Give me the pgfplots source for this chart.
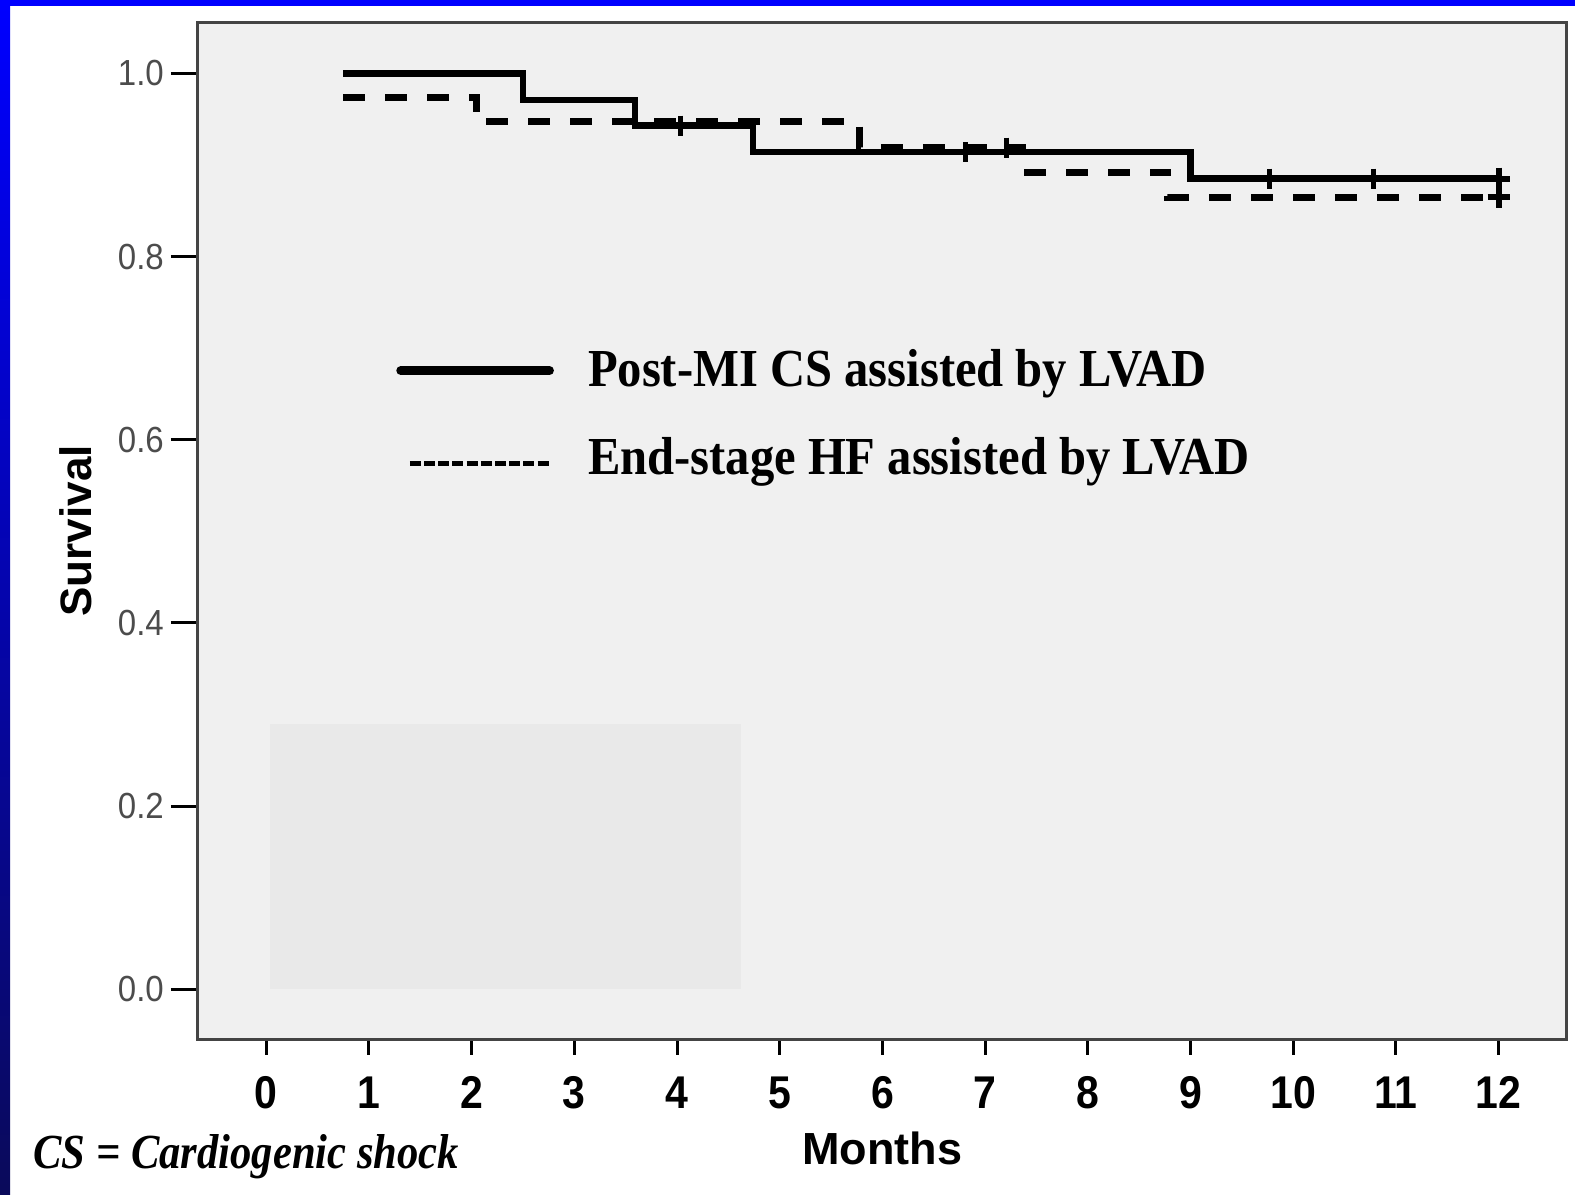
\documentclass[border=0pt]{standalone}
\usepackage{fontspec}
\setmainfont{Liberation Serif}
\setsansfont{Liberation Sans}
\usepackage{pgfplots}
\pgfplotsset{compat=1.18}
\definecolor{plotbg}{HTML}{F0F0F0}
\definecolor{boxbg}{HTML}{E9E9E9}
\definecolor{framecol}{HTML}{444444}
\definecolor{navyb}{HTML}{0A0A5A}
\begin{document}
\begin{tikzpicture}
\begin{scope}[x=0.50223pt,y=-0.50223pt]
\fill[white] (0,0) rectangle (1568,1189);
\useasboundingbox (0,0) rectangle (1568,1189);
\shade[top color=blue, bottom color=navyb] (0,0) rectangle (10,1189);
\fill[blue] (0,0) rectangle (1568,6);
\end{scope}
\begin{axis}[
  at={(98.94pt,-519.81pt)}, anchor=south west,
  width=684.54pt, height=508.76pt, scale only axis,
  xmin=-0.665, xmax=12.665, ymin=-0.055, ymax=1.056,
  axis background/.style={fill=plotbg},
  axis line style={draw=framecol, line width=1.5pt},
  tick align=outside, tick pos=left,
  major tick length=13.5pt,
  xtick style={/pgfplots/major tick length=7.5pt, black, line width=1.5pt},
  ytick style={black, line width=1.5pt},
  xtick={0,1,2,3,4,5,6,7,8,9,10,11,12},
  xticklabels={0,1,2,3,4,5,6,7,8,9,10,11,12},
  ytick={0,0.2,0.4,0.6,0.8,1.0},
  yticklabels={0.0,0.2,0.4,0.6,0.8,1.0},
  xticklabel style={font=\sffamily\bfseries\fontsize{20.5}{20.5}\selectfont, text=black, yscale=1.12, yshift=-1pt},
  yticklabel style={font=\sffamily\fontsize{16.5}{16.5}\selectfont, text=black!70, yscale=1.1},
  xlabel={Months}, ylabel={Survival},
  xlabel style={font=\sffamily\bfseries\fontsize{22.5}{22.5}\selectfont, at={(axis description cs:0.5,-0.1066)}, anchor=center},
  ylabel style={font=\sffamily\bfseries\fontsize{22}{22}\selectfont, at={(axis description cs:-0.0895,0.5)}, anchor=center},
  clip=false,
]
\fill[boxbg] (axis cs:0.04,0) rectangle (axis cs:4.62,0.29);
% Post-MI CS assisted by LVAD
\addplot[const plot, black, line width=3.3pt] coordinates {
 (0.75,1.000) (2.50,0.971) (3.59,0.943) (4.74,0.914) (9.00,0.885) (12.00,0.885)};
% End-stage HF assisted by LVAD
\addplot[const plot, black, line width=3.5pt, dash pattern=on 11pt off 10pt] coordinates {
 (0.75,0.974) (2.05,0.947) (5.78,0.919) (7.36,0.892) (8.78,0.865) (12.00,0.865)};
% censored marks
\addplot[only marks, mark=|, mark size=5pt, black, line width=2.5pt] coordinates {
 (4.03,0.943) (6.81,0.914) (9.77,0.885) (10.78,0.885)};
\addplot[only marks, mark=|, mark size=5pt, black, line width=2.5pt] coordinates {
 (7.21,0.919)};
\addplot[only marks, mark=+, mark size=5.5pt, black, line width=3pt] coordinates {
 (12.00,0.885) (12.00,0.865)};
\end{axis}
\begin{scope}[x=0.50223pt,y=-0.50223pt]
\draw[line width=4.5pt, line cap=round] (399,369) -- (547,369);
\draw[line width=2.5pt, dash pattern=on 5.5pt off 1.6pt] (408,461) -- (547,461);
\node[anchor=base west, inner sep=0pt, font=\bfseries\fontsize{24.3}{24.3}\selectfont, yscale=1.1] at (585,385) {Post-MI CS assisted by LVAD};
\node[anchor=base west, inner sep=0pt, font=\bfseries\fontsize{24.3}{24.3}\selectfont, yscale=1.1] at (585,472) {End-stage HF assisted by LVAD};
\node[anchor=base west, inner sep=0pt, font=\bfseries\itshape\fontsize{21.3}{21.3}\selectfont, yscale=1.15] at (33,1163) {CS = Cardiogenic shock};
\end{scope}
\end{tikzpicture}
\end{document}
